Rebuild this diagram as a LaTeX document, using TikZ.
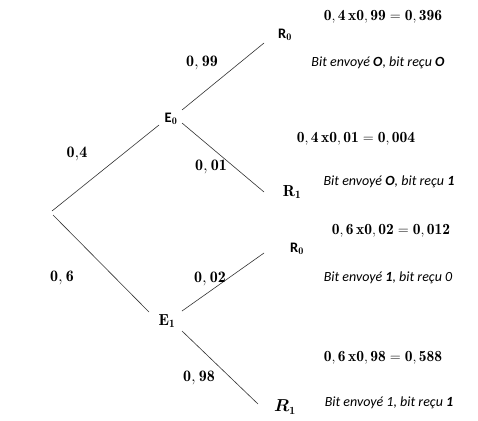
\documentclass[tikz,border=0pt]{standalone}
\usepackage{amsmath}
\usepackage{bm}
\usepackage{fontspec}
\setsansfont{Carlito}
\begin{document}
\begin{tikzpicture}[x=1pt,y=-1pt,
  branch/.style={draw=black!80, line width=0.6pt},
  sanslab/.style={font=\sffamily\bfseries\fontsize{14.5}{16}\selectfont, inner sep=0pt},
  mathlab/.style={font=\fontsize{16}{18}\selectfont, inner sep=0pt},
  prob/.style={font=\fontsize{16}{18}\selectfont, inner sep=0pt},
  formula/.style={font=\fontsize{15.5}{18}\selectfont, inner sep=0pt},
  comment/.style={font=\sffamily\itshape\fontsize{14}{16}\selectfont, inner sep=0pt}]
\useasboundingbox[fill=white] (0,0) rectangle (478,420);
% branch end points
\coordinate (root1) at (52,211);
\coordinate (root2) at (53,215);
\coordinate (e0a) at (159,125);
\coordinate (e0b) at (182,110);
\coordinate (e0c) at (182,123);
\coordinate (r0a) at (264,43);
\coordinate (r1a) at (264,192);
\coordinate (e1a) at (149,312);
\coordinate (e1b) at (182,311);
\coordinate (e1c) at (182,331);
\coordinate (r0b) at (264,253);
\coordinate (r1b) at (258,404);
% state labels
\node[sanslab] (E0) at (171,119) {E$_{\mathbf 0}$};
\node[sanslab] (R0a) at (285,35) {R$_{\mathbf 0}$};
\node[mathlab] (R1a) at (292,192) {$\mathbf{R_1}$};
\node[sanslab] (R0b) at (297,249) {R$_{\mathbf 0}$};
\node[mathlab] (E1) at (167,321) {$\mathbf{E_1}$};
\node[mathlab] (R1b) at (285,407) {$\bm{R_1}$};
% branches
\draw[branch] (root1) -- (e0a);
\draw[branch] (root2) -- (e1a);
\draw[branch] (e0b) -- (r0a);
\draw[branch] (e0c) -- (r1a);
\draw[branch] (e1b) -- (r0b);
\draw[branch] (e1c) -- (r1b);
% probabilities
\node[prob] (p04) at (77,154) {$\mathbf{0{,}4}$};
\node[prob] (p06) at (62,278) {$\mathbf{0,6}$};
\node[prob] (p099) at (202,63) {$\mathbf{0,99}$};
\node[prob] (p001) at (211,167) {$\mathbf{0,01}$};
\node[prob] (p002) at (210,279) {$\mathbf{0,02}$};
\node[prob] (p098) at (199,378) {$\mathbf{0,98}$};
% formulas
\node[formula] (f1) at (383,17) {$\mathbf{0,4\,x0,99 = 0,396}$};
\node[formula] (f2) at (356,139) {$\mathbf{0,4\,x0,01 = 0,004}$};
\node[formula] (f3) at (391,231) {$\mathbf{0,6\,x0,02 = 0,012}$};
\node[formula] (f4) at (383,358) {$\mathbf{0,6\,x0,98 = 0,588}$};
% comments
\node[comment] (c1) at (378,63) {Bit envoyé \textbf{O}, bit reçu \textbf{O}};
\node[comment] (c2) at (389,182) {Bit envoyé \textbf{O}, bit reçu \textbf{1}};
\node[comment] (c3) at (388,278) {Bit envoyé \textbf{1}, bit reçu 0};
\node[comment] (c4) at (389,403) {Bit envoyé 1, bit reçu \textbf{1}};
\end{tikzpicture}
\end{document}
